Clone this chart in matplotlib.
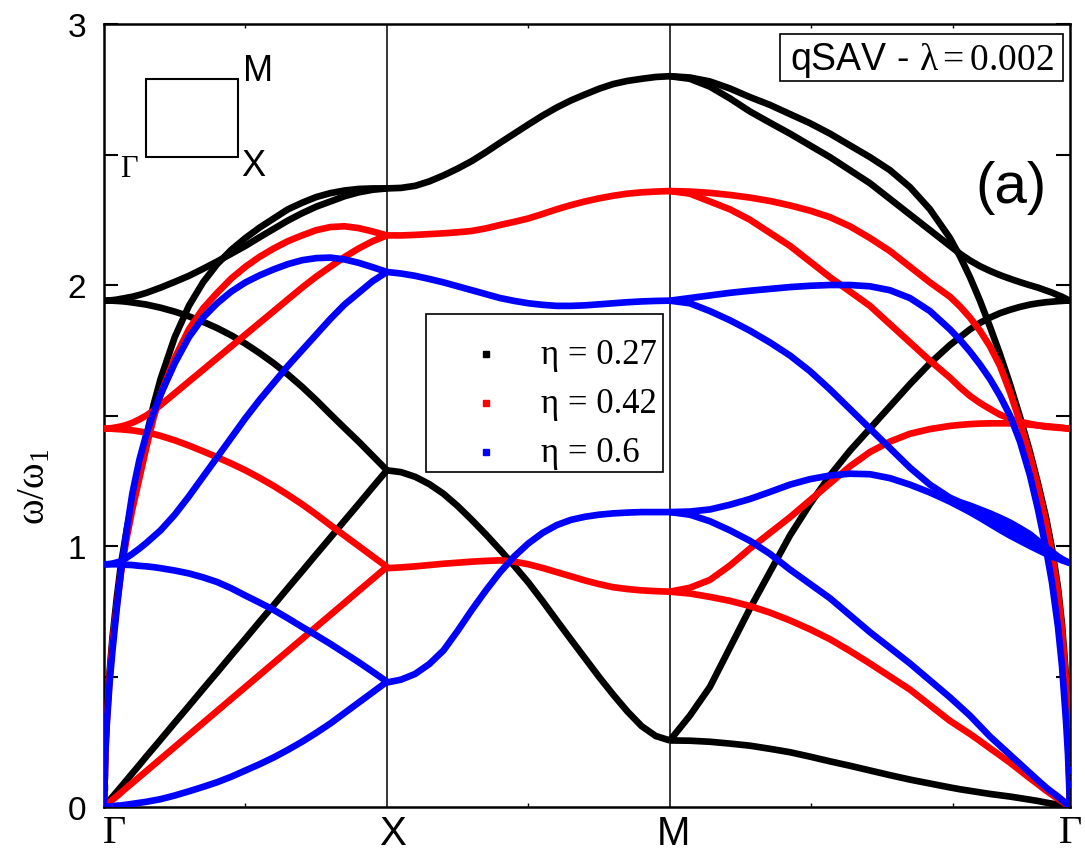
import matplotlib.pyplot as plt
import numpy as np
from matplotlib.patches import Rectangle
from matplotlib.transforms import ScaledTranslation

plt.rcParams['mathtext.fontset'] = 'custom'
plt.rcParams['mathtext.rm'] = 'Liberation Serif'
plt.rcParams['mathtext.it'] = 'Liberation Serif:italic'

# positions of the high-symmetry points along the path
path_pos = [0.0, 1.0, 2.0, 2.0 + np.sqrt(2)]
path_labels = ['Γ', 'X', 'M', 'Γ']

# sampling of each segment (fraction of the segment)
k_gx = [0, .005, .01, .02, .03, .045, .06, .08, .1, .125, .15, .175, .2, .25, .3, .35, .4, .45,
        .5, .55, .6, .65, .7, .75, .8, .85, .9, .95, 1.0]
k_xm = [0, .05, .1, .15, .2, .25, .3, .35, .4, .45, .5, .55, .6, .65, .7, .75, .8, .85, .9, .95, 1.0]
k_mg = [0, .05, .1, .15, .2, .25, .3, .35, .4, .45, .5, .55, .6, .65, .7, .725, .75, .775, .8,
        .825, .85, .875, .9, .92, .94, .955, .97, .98, .99, .995, 1.0]

# eta = 0.27
black_gx = [
    [0, .006, .013, .026, .039, .058, .077, .103, .129, .161, .194, .226, .258, .323, .387, .452,
     .516, .581, .645, .71, .774, .839, .903, .968, 1.032, 1.097, 1.161, 1.226, 1.29],
    [1.94, 1.94, 1.94, 1.94, 1.94, 1.939, 1.938, 1.936, 1.933, 1.929, 1.925, 1.919, 1.913, 1.898,
     1.88, 1.859, 1.835, 1.807, 1.775, 1.739, 1.70, 1.657, 1.61, 1.559, 1.505, 1.452, 1.40, 1.345, 1.29],
    [1.94, 1.94, 1.94, 1.941, 1.942, 1.944, 1.947, 1.951, 1.955, 1.962, 1.97, 1.98, 1.99, 2.012,
     2.035, 2.062, 2.09, 2.12, 2.15, 2.183, 2.215, 2.247, 2.275, 2.30, 2.32, 2.34, 2.355, 2.365, 2.37],
    [0, 0.24, 0.35, 0.52, 0.65, 0.8, 0.93, 1.06, 1.17, 1.30, 1.42, 1.54, 1.64, 1.80, 1.92, 2.01,
     2.08, 2.135, 2.18, 2.22, 2.255, 2.29, 2.315, 2.337, 2.352, 2.362, 2.368, 2.37, 2.37],
]
black_xm = [
    [2.37, 2.372, 2.38, 2.397, 2.42, 2.446, 2.475, 2.509, 2.545, 2.58, 2.615, 2.649, 2.68, 2.707,
     2.73, 2.752, 2.77, 2.782, 2.79, 2.797, 2.80],
    [1.29, 1.283, 1.265, 1.237, 1.20, 1.153, 1.10, 1.044, 0.985, 0.924, 0.86, 0.789, 0.715, 0.642,
     0.57, 0.498, 0.43, 0.366, 0.31, 0.272, 0.255],
]
black_mg = [
    [0.255, 0.254, 0.25, 0.243, 0.235, 0.223, 0.21, 0.193, 0.175, 0.158, 0.14, 0.122, 0.105, 0.09,
     0.075, 0.068, 0.062, 0.056, 0.05, 0.045, 0.04, 0.034, 0.028, 0.023, 0.017, 0.013, 0.009, 0.006,
     0.003, 0.001, 0],
    [0.255, 0.35, 0.46, 0.61, 0.76, 0.9, 1.04, 1.16, 1.27, 1.365, 1.45, 1.535, 1.62, 1.7, 1.77, 1.8,
     1.83, 1.855, 1.875, 1.892, 1.905, 1.916, 1.925, 1.93, 1.934, 1.936, 1.938, 1.939, 1.94, 1.94, 1.94],
    [2.80, 2.79, 2.76, 2.715, 2.665, 2.622, 2.58, 2.535, 2.49, 2.44, 2.39, 2.33, 2.27, 2.21, 2.15,
     2.12, 2.094, 2.072, 2.054, 2.038, 2.024, 2.011, 1.999, 1.99, 1.979, 1.971, 1.961, 1.955, 1.947,
     1.943, 1.94],
    [2.80, 2.795, 2.78, 2.753, 2.72, 2.69, 2.655, 2.62, 2.58, 2.535, 2.49, 2.44, 2.375, 2.29, 2.18,
     2.11, 2.03, 1.94, 1.84, 1.735, 1.62, 1.495, 1.36, 1.24, 1.11, 0.99, 0.84, 0.7, 0.5, 0.36, 0],
]

# eta = 0.42
red_gx = [
    [0, .005, .009, .018, .028, .041, .055, .074, .092, .115, .138, .161, .184, .23, .276, .322,
     .368, .414, .46, .506, .552, .598, .644, .69, .736, .782, .828, .874, .92],
    [1.45, 1.45, 1.45, 1.45, 1.449, 1.448, 1.447, 1.445, 1.443, 1.439, 1.435, 1.429, 1.422, 1.405,
     1.385, 1.363, 1.34, 1.316, 1.29, 1.261, 1.23, 1.196, 1.16, 1.121, 1.08, 1.04, 1.0, 0.96, 0.92],
    [1.45, 1.45, 1.45, 1.451, 1.452, 1.455, 1.458, 1.464, 1.472, 1.485, 1.50, 1.519, 1.54, 1.585,
     1.63, 1.675, 1.72, 1.765, 1.81, 1.855, 1.90, 1.945, 1.99, 2.032, 2.07, 2.107, 2.14, 2.168, 2.19],
    [0, 0.22, 0.33, 0.5, 0.63, 0.77, 0.9, 1.03, 1.14, 1.26, 1.38, 1.49, 1.58, 1.72, 1.83, 1.91,
     1.97, 2.025, 2.07, 2.108, 2.14, 2.168, 2.19, 2.21, 2.222, 2.225, 2.218, 2.205, 2.19],
]
red_xm = [
    [2.19, 2.19, 2.192, 2.195, 2.198, 2.202, 2.207, 2.217, 2.23, 2.242, 2.255, 2.272, 2.29, 2.306,
     2.32, 2.332, 2.342, 2.35, 2.355, 2.358, 2.36],
    [0.915, 0.918, 0.922, 0.927, 0.932, 0.936, 0.94, 0.943, 0.945, 0.94, 0.93, 0.916, 0.90, 0.884,
     0.868, 0.854, 0.842, 0.835, 0.83, 0.827, 0.825],
]
red_mg = [
    [2.36, 2.35, 2.32, 2.29, 2.25, 2.2, 2.15, 2.09, 2.03, 1.975, 1.92, 1.85, 1.78, 1.71, 1.645,
     1.608, 1.575, 1.548, 1.525, 1.503, 1.488, 1.476, 1.468, 1.462, 1.457, 1.455, 1.453, 1.452,
     1.451, 1.45, 1.45],
    [2.36, 2.358, 2.353, 2.345, 2.335, 2.322, 2.305, 2.285, 2.26, 2.225, 2.18, 2.13, 2.07, 2.01,
     1.955, 1.918, 1.875, 1.825, 1.765, 1.69, 1.59, 1.475, 1.345, 1.225, 1.09, 0.97, 0.82, 0.68,
     0.48, 0.34, 0],
    [0.825, 0.84, 0.87, 0.925, 0.99, 1.05, 1.11, 1.175, 1.24, 1.305, 1.36, 1.4, 1.43, 1.448, 1.46,
     1.464, 1.467, 1.469, 1.47, 1.47, 1.47, 1.468, 1.465, 1.462, 1.459, 1.457, 1.455, 1.453, 1.451,
     1.45, 1.45],
    [0.825, 0.818, 0.805, 0.79, 0.77, 0.745, 0.715, 0.681, 0.643, 0.598, 0.55, 0.5, 0.45, 0.39,
     0.33, 0.305, 0.28, 0.253, 0.225, 0.198, 0.17, 0.14, 0.11, 0.087, 0.063, 0.047, 0.031, 0.021,
     0.01, 0.005, 0],
]

# eta = 0.6
blue_gx = [
    [0, 0, .001, .002, .003, .005, .006, .009, .012, .016, .02, .025, .03, .044, .06, .077, .095,
     .116, .14, .164, .19, .219, .25, .284, .32, .36, .40, .44, .48],
    [0.93, 0.93, 0.93, 0.93, 0.93, 0.93, 0.929, 0.928, 0.927, 0.924, 0.922, 0.919, 0.915, 0.906,
     0.895, 0.88, 0.862, 0.838, 0.81, 0.783, 0.755, 0.723, 0.69, 0.658, 0.625, 0.59, 0.555, 0.518, 0.48],
    [0.93, 0.93, 0.93, 0.931, 0.933, 0.937, 0.942, 0.955, 0.97, 0.99, 1.012, 1.036, 1.06, 1.12,
     1.19, 1.265, 1.34, 1.415, 1.49, 1.56, 1.625, 1.69, 1.75, 1.81, 1.87, 1.925, 1.97, 2.015, 2.05],
    [0, 0.21, 0.32, 0.48, 0.6, 0.76, 0.9, 1.06, 1.2, 1.33, 1.43, 1.51, 1.58, 1.7, 1.8, 1.875, 1.93,
     1.975, 2.01, 2.037, 2.06, 2.08, 2.095, 2.103, 2.105, 2.098, 2.085, 2.068, 2.05],
]
blue_xm = [
    [2.05, 2.044, 2.035, 2.023, 2.01, 1.995, 1.98, 1.965, 1.95, 1.939, 1.93, 1.924, 1.92, 1.92,
     1.922, 1.926, 1.93, 1.934, 1.937, 1.939, 1.94],
    [0.477, 0.488, 0.51, 0.548, 0.60, 0.675, 0.755, 0.83, 0.9, 0.96, 1.01, 1.05, 1.08, 1.1, 1.112,
     1.12, 1.125, 1.128, 1.13, 1.13, 1.13],
]
blue_mg = [
    [1.94, 1.95, 1.96, 1.97, 1.978, 1.985, 1.992, 1.997, 2.0, 2.0, 1.995, 1.98, 1.95, 1.9, 1.83,
     1.79, 1.745, 1.695, 1.64, 1.575, 1.5, 1.4, 1.27, 1.14, 0.99, 0.86, 0.69, 0.54, 0.33, 0.2, 0],
    [1.94, 1.93, 1.9, 1.865, 1.825, 1.78, 1.73, 1.67, 1.60, 1.525, 1.45, 1.375, 1.30, 1.235, 1.185,
     1.168, 1.155, 1.14, 1.125, 1.108, 1.09, 1.068, 1.045, 1.02, 0.995, 0.977, 0.96, 0.95, 0.942,
     0.938, 0.935],
    [1.13, 1.132, 1.14, 1.158, 1.18, 1.207, 1.235, 1.256, 1.27, 1.277, 1.275, 1.26, 1.235, 1.205,
     1.17, 1.15, 1.13, 1.108, 1.085, 1.062, 1.04, 1.02, 1.0, 0.985, 0.97, 0.96, 0.952, 0.945, 0.94,
     0.937, 0.935],
    [1.13, 1.12, 1.095, 1.06, 1.02, 0.97, 0.91, 0.855, 0.80, 0.735, 0.67, 0.61, 0.55, 0.485, 0.42,
     0.385, 0.35, 0.31, 0.27, 0.235, 0.2, 0.165, 0.13, 0.102, 0.075, 0.057, 0.04, 0.027, 0.014,
     0.007, 0],
]
# isolated solver points close to Gamma
blue_stray_x = [0.0, 0.0, path_pos[3], path_pos[3]]
blue_stray_y = [0.077, 0.12, 0.09, 0.14]

colors = ['k', '#ff0000', '#0000ff']
labels = ['η = 0.27', 'η = 0.42', 'η = 0.6']
bands = [(black_gx, black_xm, black_mg), (red_gx, red_xm, red_mg), (blue_gx, blue_xm, blue_mg)]

fig = plt.figure(figsize=(10.85, 8.53), dpi=100)
ax = fig.add_axes([104 / 1085, 45 / 853, 966 / 1085, 783 / 853])

segments = [(k_gx, 0, 1), (k_xm, 1, 2), (k_mg, 2, 3)]
for color, segs in zip(colors, bands):
    for (grid, i0, i1), seg_bands in zip(segments, segs):
        x = path_pos[i0] + np.array(grid) * (path_pos[i1] - path_pos[i0])
        for y in seg_bands:
            ax.plot(x, y, color=color, lw=4.8, solid_capstyle='butt', solid_joinstyle='round',
                    zorder=3)

# the two nearly degenerate blue branches close to Gamma merge into one thick band
x_mg = path_pos[2] + np.array(k_mg) * (path_pos[3] - path_pos[2])
ax.fill_between(x_mg, blue_mg[2], blue_mg[1], where=np.array(k_mg) >= 0.7,
                color='#0000ff', lw=0, zorder=3)
ax.plot(blue_stray_x, blue_stray_y, ls='none', marker='s', ms=4, color='#0000ff', zorder=3)

for p in path_pos[1:3]:
    ax.axvline(p, color='k', lw=1.1, zorder=1)

ax.set_xlim(path_pos[0], path_pos[3])
ax.set_ylim(0, 3)
for s in ax.spines.values():
    s.set_linewidth(1.8)

ax.set_xticks(path_pos)
ax.set_xticklabels(path_labels)
ax.set_xticks([0.5, 1.5, 2.5, 3.0], minor=True)
ax.tick_params(axis='x', which='major', length=0, pad=5, labelsize=29)
ax.tick_params(axis='x', which='minor', direction='in', length=3, width=1, top=True, bottom=True)
fams = ['Liberation Serif', 'Liberation Sans', 'Liberation Sans', 'Liberation Serif']
shifts = [10, 6, 4, 0]
for lab, fam, dx in zip(ax.get_xticklabels(), fams, shifts):
    lab.set_fontfamily(fam)
    lab.set_transform(lab.get_transform() + ScaledTranslation(dx / 100, 0, fig.dpi_scale_trans))

ax.set_yticks([0, 1, 2, 3])
ax.set_yticks([0.5, 1.5, 2.5], minor=True)
ax.tick_params(axis='y', which='both', direction='in', length=10, width=1.5,
               left=True, right=True, pad=13)
ax.tick_params(axis='y', which='major', labelsize=24)
for lab in ax.get_yticklabels():
    lab.set_fontfamily('Liberation Sans')

ax.text(-0.073, 0.41, r'$\mathrm{\omega/\omega_1}$', transform=ax.transAxes, fontsize=28,
        rotation=90, ha='center', va='center')

# Brillouin zone sketch
ax.add_patch(Rectangle((0.0435, 0.830), 0.0952, 0.100, transform=ax.transAxes,
                       fill=False, lw=1.5, ec='k', zorder=4))
ax.text(0.159, 0.940, 'M', transform=ax.transAxes, fontsize=26, family='Liberation Sans',
        ha='center', va='center')
ax.text(0.155, 0.819, 'X', transform=ax.transAxes, fontsize=26, family='Liberation Sans',
        ha='center', va='center')
ax.text(0.026, 0.815, 'Γ', transform=ax.transAxes, fontsize=22, family='Liberation Serif',
        ha='center', va='center')

# model label
ax.add_patch(Rectangle((0.70, 0.927), 0.293, 0.060, transform=ax.transAxes,
                       fill=False, lw=1.2, ec='k', zorder=4))
ax.text(0.847, 0.955, r'qSAV - $\mathrm{\lambda = 0.002}$', transform=ax.transAxes,
        fontsize=27, family='Liberation Sans', ha='center', va='center')
ax.text(0.939, 0.792, '(a)', transform=ax.transAxes, fontsize=42,
        family='Liberation Sans', ha='center', va='center')

# legend box
ax.add_patch(Rectangle((0.3333, 0.4278), 0.2454, 0.2018, transform=ax.transAxes,
                       facecolor='white', ec='k', lw=1.2, zorder=5))
for row, (color, label) in enumerate(zip(colors, labels)):
    yy = 0.5785 - row * 0.0626
    ax.plot([0.3954], [yy], ls='none', marker='s', ms=5, color=color,
            transform=ax.transAxes, zorder=6)
    ax.text(0.4524, yy, label, transform=ax.transAxes, fontsize=25,
            family='Liberation Serif', ha='left', va='center', zorder=6)

fig.savefig('out.png', dpi=100, facecolor='white')
